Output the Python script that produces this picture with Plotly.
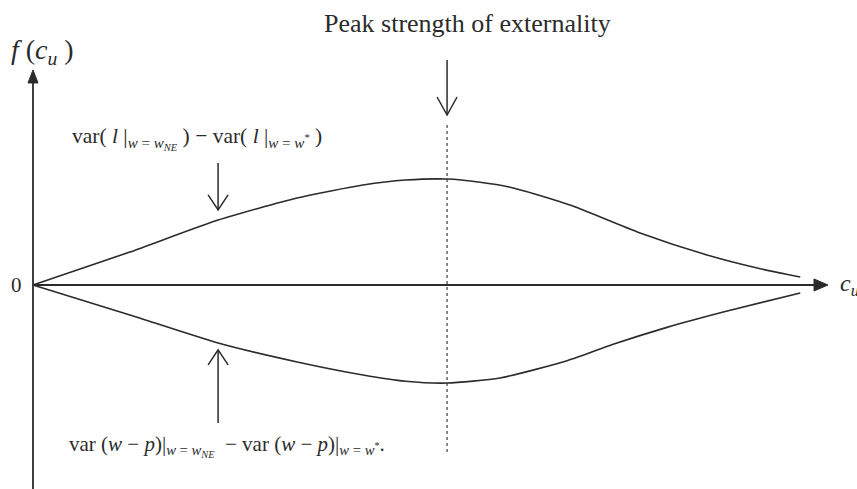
import plotly.graph_objects as go

# Curve samples (c_u scaled so the peak of the externality sits at 1.0)
c_upper = [0.0, 0.234, 0.447, 0.638, 0.797, 0.90, 1.0, 1.08, 1.15, 1.22, 1.304, 1.466, 1.628, 1.749, 1.853]
f_upper = [0.0, 0.311, 0.613, 0.821, 0.943, 0.99, 1.0, 0.97, 0.925, 0.85, 0.745, 0.491, 0.283, 0.160, 0.075]

c_lower = [0.0, 0.234, 0.447, 0.638, 0.797, 0.90, 1.0, 1.128, 1.290, 1.401, 1.531, 1.667, 1.853]
f_lower = [0.0, -0.283, -0.547, -0.726, -0.849, -0.908, -0.925, -0.877, -0.715, -0.560, -0.400, -0.255, -0.075]

peak_c = 1.0

W, H = 857, 489
X0, X1 = -0.0797, 1.990
Y0, Y1 = -1.925, 2.689
PX = W / (X1 - X0)   # pixels per x unit
PY = H / (Y1 - Y0)   # pixels per y unit

INK = "#2b2b2b"
FONT = "Liberation Serif"

fig = go.Figure()
for cx, fy in ((c_upper, f_upper), (c_lower, f_lower)):
    fig.add_trace(go.Scatter(x=cx, y=fy, mode="lines",
                             line=dict(color=INK, width=1.6, shape="spline", smoothing=0.6),
                             hoverinfo="skip", showlegend=False))

shapes = []
# axes
x_tip = 1.920
y_tip = 2.029
shapes.append(dict(type="line", x0=0, y0=0, x1=x_tip - 8 / PX, y1=0,
                   line=dict(color=INK, width=1.8)))
shapes.append(dict(type="line", x0=0, y0=Y0, x1=0, y1=y_tip - 8 / PY,
                   line=dict(color=INK, width=1.8)))
shapes.append(dict(type="path",
                   path=f"M {x_tip},0 L {x_tip - 14 / PX},{6 / PY} L {x_tip - 14 / PX},{-6 / PY} Z",
                   fillcolor=INK, line=dict(color=INK, width=1)))
shapes.append(dict(type="path",
                   path=f"M 0,{y_tip} L {-5 / PX},{y_tip - 13 / PY} L {5 / PX},{y_tip - 13 / PY} Z",
                   fillcolor=INK, line=dict(color=INK, width=1)))

# dotted line at peak externality
shapes.append(dict(type="line", x0=peak_c, y0=1.509, x1=peak_c, y1=-1.575,
                   line=dict(color=INK, width=1.1, dash="dot")))


def open_arrow(x, y_tail, y_tip, hw=10, hh=15):
    sgn = 1 if y_tip > y_tail else -1
    out = [dict(type="line", x0=x, y0=y_tail, x1=x, y1=y_tip,
                line=dict(color=INK, width=1.5))]
    out.append(dict(type="path",
                    path=(f"M {x - hw / PX},{y_tip - sgn * hh / PY} L {x},{y_tip} "
                          f"L {x + hw / PX},{y_tip - sgn * hh / PY}"),
                    line=dict(color=INK, width=1.5)))
    return out


shapes += open_arrow(peak_c, 2.123, 1.604, hw=10, hh=18)
shapes += open_arrow(0.447, 1.151, 0.708)
shapes += open_arrow(0.447, -1.302, -0.613)

fig.update_layout(shapes=shapes)

ann = [
    dict(x=1.05, y=2.47, text="Peak strength of externality", font=dict(size=26)),
    dict(x=0.022, y=2.20, text="<i>f</i> (<i>c<sub>u</sub></i> )", font=dict(size=28)),
    dict(x=-0.04, y=0.0, text="0", font=dict(size=21)),
    dict(x=1.945, y=0.0, text="<i>c<sub>u</sub></i>", font=dict(size=24), xanchor="left"),
    dict(x=0.09, y=1.38, xanchor="left",
         text=("var( <i>l</i> |<sub><i>w</i> = <i>w</i><sub><i>NE</i></sub></sub> ) − "
               "var( <i>l</i> |<sub><i>w</i> = <i>w</i><sup>*</sup></sub> )"),
         font=dict(size=21.5)),
    dict(x=0.083, y=-1.52, xanchor="left",
         text=("var (<i>w</i> − <i>p</i>)|<sub><i>w</i> = <i>w</i><sub><i>NE</i></sub></sub>"
               "  − var (<i>w</i> − <i>p</i>)|<sub><i>w</i> = <i>w</i><sup>*</sup></sub>."),
         font=dict(size=21)),
]
for a in ann:
    a.setdefault("xanchor", "center")
    a.update(xref="x", yref="y", showarrow=False, yanchor="middle")
    a["font"].update(family=FONT, color=INK)
fig.update_layout(annotations=ann)

fig.update_layout(
    width=W, height=H, margin=dict(l=0, r=0, t=0, b=0),
    paper_bgcolor="white", plot_bgcolor="white",
    xaxis=dict(range=[X0, X1], visible=False, fixedrange=True),
    yaxis=dict(range=[Y0, Y1], visible=False, fixedrange=True),
)

fig.write_html("out.html")
